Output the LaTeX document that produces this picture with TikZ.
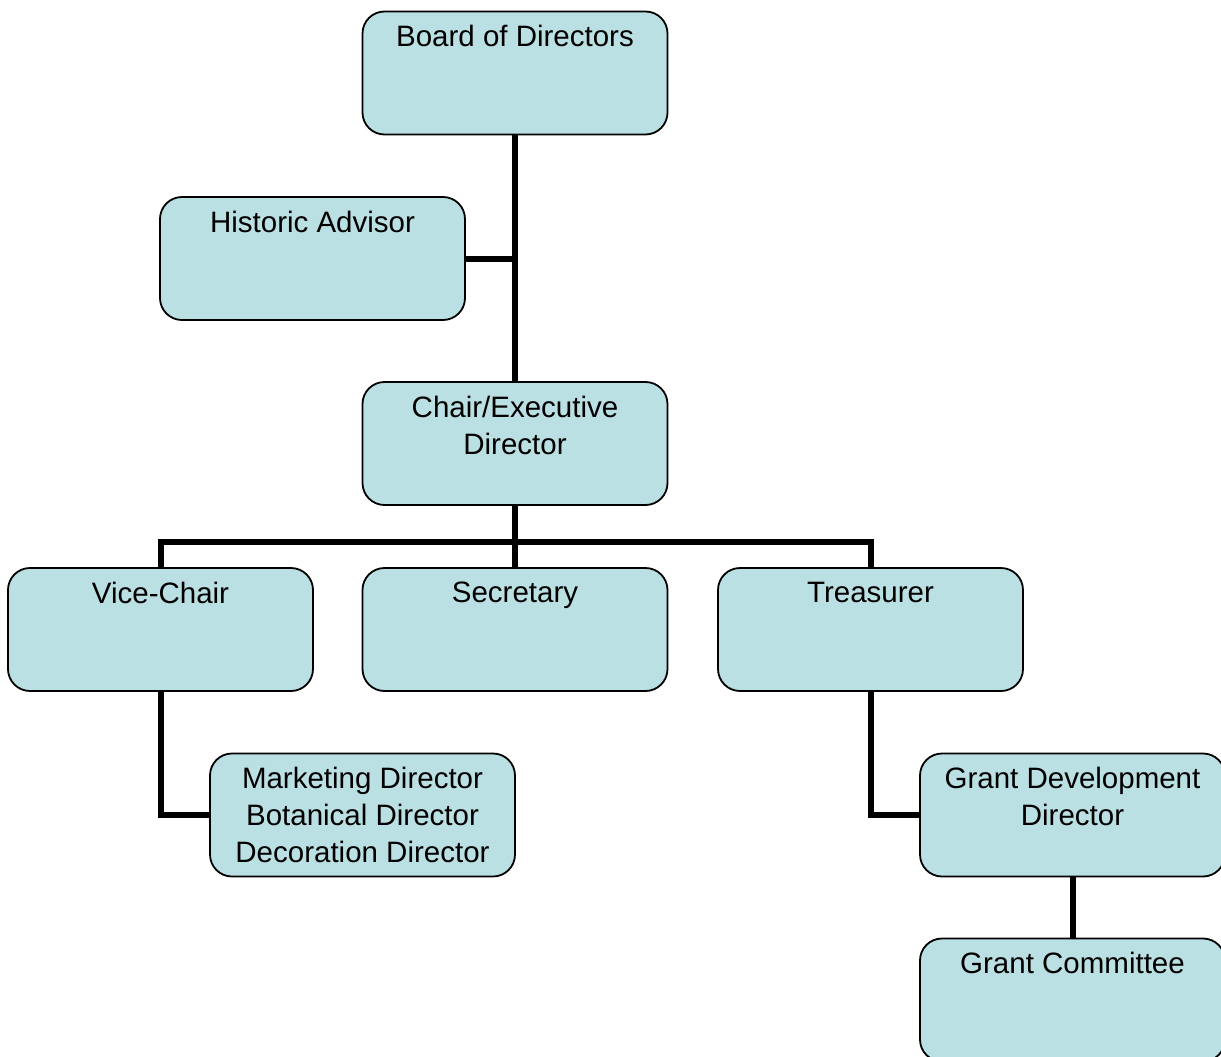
\documentclass[tikz,border=0pt]{standalone}
\usepackage{fontspec}
\setmainfont{Liberation Sans}
\usetikzlibrary{backgrounds}
\definecolor{boxfill}{RGB}{187,224,227}
\tikzset{
  orgbox/.style={draw=black, line width=1.8pt, fill=boxfill, rounded corners=22pt,
    minimum width=305pt, minimum height=123pt, inner sep=0pt},
  orgtxt/.style={anchor=north, inner sep=0pt, align=center, font=\fontsize{29.5}{37}\selectfont},
  link/.style={line width=6pt, draw=black}
}
\begin{document}
\begin{tikzpicture}[x=1pt,y=-1pt]
\useasboundingbox (0,0) rectangle (1221,1057);
\node[orgbox] (bod) at (515,73) {};
\node[orgtxt] (bodt) at ([yshift=-14.5pt]bod.north) {Board of Directors};
\node[orgbox] (his) at (312.5,258.5) {};
\node[orgtxt] (hist) at ([yshift=-14.5pt]his.north) {Historic Advisor};
\node[orgbox] (chr) at (515,443.5) {};
\node[orgtxt] (chrt) at ([yshift=-14.5pt]chr.north) {Chair/Executive\\Director};
\node[orgbox] (vic) at (160.5,629.5) {};
\node[orgtxt] (vict) at ([yshift=-14.5pt]vic.north) {Vice-Chair};
\node[orgbox] (sec) at (515,629.5) {};
\node[orgtxt] (sect) at ([yshift=-14.5pt]sec.north) {Secretary};
\node[orgbox] (tre) at (870.5,629.5) {};
\node[orgtxt] (tret) at ([yshift=-14.5pt]tre.north) {Treasurer};
\node[orgbox] (mkt) at (362.5,815) {};
\node[orgtxt] (mktt) at ([yshift=-14.5pt]mkt.north) {Marketing Director\\Botanical Director\\Decoration Director};
\node[orgbox] (gdd) at (1072.5,815) {};
\node[orgtxt] (gddt) at ([yshift=-14.5pt]gdd.north) {Grant Development\\Director};
\node[orgbox] (gcm) at (1072.5,1000) {};
\node[orgtxt] (gcmt) at ([yshift=-14.5pt]gcm.north) {Grant Committee};
\coordinate (hj) at (515,258.5);
\coordinate (bar) at (515,542);
\begin{scope}[on background layer]
\draw[link] (bod.south) -- (chr.north);
\draw[link] (his.east) -- (hj);
\draw[link] (chr.south) -- (bar);
\draw[link] (vic.north) |- (tre.north |- bar) -- (tre.north);
\draw[link] (bar) -- (sec.north);
\draw[link] (vic.south) |- (mkt.west);
\draw[link] (tre.south) |- (gdd.west);
\draw[link] (gdd.south) -- (gcm.north);
\end{scope}
\end{tikzpicture}
\end{document}
